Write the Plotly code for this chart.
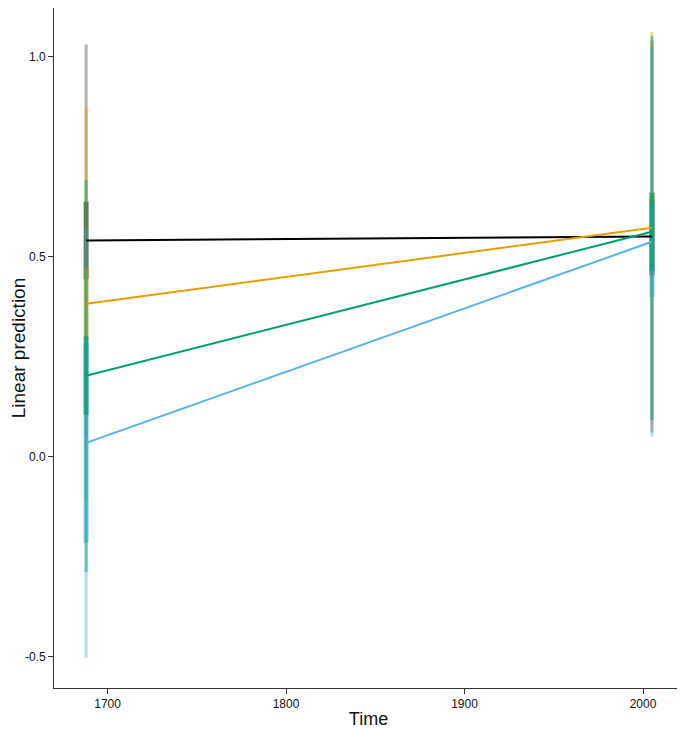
import numpy as np
import plotly.graph_objects as go

# two time points, four groups
times = [1688, 2005]
groups = ["black", "orange", "blue", "green"]   # drawing order of the bars
colors = {"black": (0, 0, 0), "orange": (230, 159, 0),
          "green": (0, 158, 115), "blue": (86, 180, 233)}

# predicted values at each time
pred = {
    "black":  [0.541, 0.551],
    "orange": [0.383, 0.573],
    "green":  [0.203, 0.563],
    "blue":   [0.035, 0.538],
}
# wide interval (thin bar)
wide_lo = {
    "black":  [0.050, 0.061],
    "orange": [-0.107, 0.083],
    "green":  [-0.288, 0.093],
    "blue":   [-0.503, 0.050],
}
wide_hi = {
    "black":  [1.031, 1.041],
    "orange": [0.873, 1.063],
    "green":  [0.693, 1.053],
    "blue":   [0.573, 1.026],
}
# narrow interval (thick bar)
narrow_lo = {
    "black":  [0.445, 0.454],
    "orange": [0.293, 0.483],
    "green":  [0.105, 0.465],
    "blue":   [-0.215, 0.400],
}
narrow_hi = {
    "black":  [0.638, 0.647],
    "orange": [0.473, 0.663],
    "green":  [0.301, 0.660],
    "blue":   [0.285, 0.633],
}


def rgba(c, a):
    return "rgba(%d,%d,%d,%.2f)" % (c + (a,))


fig = go.Figure()

for g in groups:
    c = colors[g]
    y = np.array(pred[g])
    a_thin = 0.3 if g == "black" else 0.45
    a_thick = 0.55 if g == "black" else 0.65
    for lo, hi, w, a in [(wide_lo[g], wide_hi[g], 3, a_thin),
                         (narrow_lo[g], narrow_hi[g], 5, a_thick)]:
        fig.add_trace(go.Scatter(
            x=times, y=y, mode="markers", marker=dict(size=1, opacity=0),
            error_y=dict(type="data", symmetric=False,
                         array=np.array(hi) - y, arrayminus=y - np.array(lo),
                         thickness=w, width=0, color=rgba(c, a)),
            showlegend=False, hoverinfo="skip"))

for g in ["black", "orange", "green", "blue"]:
    fig.add_trace(go.Scatter(x=times, y=pred[g], mode="lines",
                             line=dict(color=rgba(colors[g], 1), width=2),
                             showlegend=False, name=g))

# the page body adds an 8px margin, so the figure is a bit smaller than the window
fig.update_layout(
    width=677, height=721,
    margin=dict(l=46, r=2, t=0, b=41),
    plot_bgcolor="white", paper_bgcolor="white",
    font=dict(family="Liberation Sans, Arial, sans-serif", color="#111"),
    showlegend=False,
)
fig.update_xaxes(
    range=[1670, 2022.4], tickvals=[1700, 1800, 1900, 2000], automargin=False,
    showgrid=False, zeroline=False, showline=True, linecolor="#333", linewidth=1,
    ticks="outside", ticklen=5, tickcolor="#333", tickfont=dict(size=12),
    title=dict(text="Time", font=dict(size=18), standoff=2),
)
fig.update_yaxes(
    range=[-0.578, 1.1225], tickvals=[-0.5, 0.0, 0.5, 1.0], automargin=False,
    ticktext=["-0.5", "0.0", "0.5", "1.0"],
    showgrid=False, zeroline=False, showline=True, linecolor="#333", linewidth=1,
    ticks="outside", ticklen=5, tickcolor="#333", tickfont=dict(size=12),
    title=dict(text="Linear prediction", font=dict(size=19), standoff=6),
)

fig.write_html("out.html")
